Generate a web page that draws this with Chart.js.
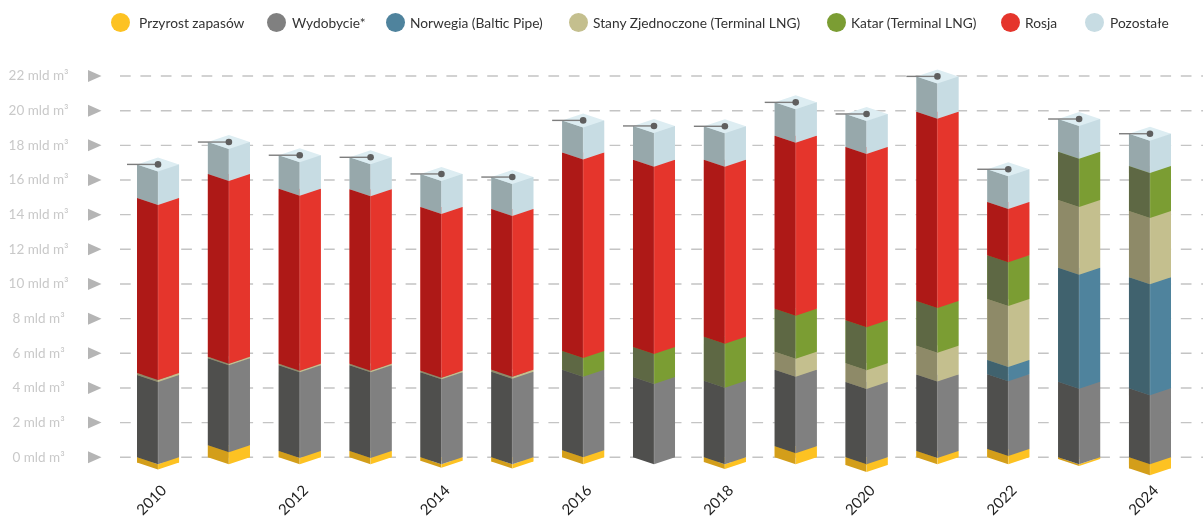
<!DOCTYPE html>
<html lang="pl">
<head>
  <meta charset="UTF-8">
  <title>Gaz w Polsce</title>
  <script src="https://cdn.jsdelivr.net/npm/chart.js"></script>
  <style>
    body { margin: 0; background: #fff; font-family: Lato, sans-serif; }
    #wrap { position: relative; width: 1203px; height: 517px; overflow: hidden; }
    canvas { display: block; }
    .swatch { position: absolute; top: 13px; width: 19px; height: 19px; border-radius: 50%; }
    .name { position: absolute; top: 14px; font-size: 13.75px; line-height: 17px; color: #333; white-space: nowrap; }
  </style>
</head>
<body>
  <div id="wrap">
    <canvas id="chart" width="1203" height="517"></canvas>
  </div>

  <script>
    const years = ["2010", "2011", "2012", "2013", "2014", "2015", "2016", "2017", "2018", "2019", "2020", "2021", "2022", "2023", "2024"];
    const yTickValues = [0, 2, 4, 6, 8, 10, 12, 14, 16, 18, 20, 22];
    const yTickLabels = ["0 mld m³", "2 mld m³", "4 mld m³", "6 mld m³", "8 mld m³", "10 mld m³", "12 mld m³", "14 mld m³", "16 mld m³", "18 mld m³", "20 mld m³", "22 mld m³"];

    const stock = [-0.3, 0.69, 0.36, 0.36, -0.2, -0.25, 0.4, 0, -0.27, 0.63, -0.45, 0.36, 0.48, -0.1, -0.64];
    const output = [4.75, 5.02, 4.95, 4.95, 4.9, 4.94, 4.65, 4.63, 4.42, 4.42, 4.35, 4.41, 4.31, 4.36, 3.98];
    const norway = [0, 0, 0, 0, 0, 0, 0, 0, 0, 0, 0, 0, 0.82, 6.58, 6.41];
    const usa = [0.12, 0.09, 0.08, 0.08, 0.1, 0.11, 0, 0, 0, 1.04, 1.07, 1.67, 3.52, 3.91, 3.82];
    const qatar = [0, 0, 0, 0, 0, 0, 1.08, 1.73, 2.54, 2.48, 2.48, 2.58, 2.53, 2.78, 2.6];
    const russia = [10.09, 10.55, 10.11, 10.07, 9.44, 9.28, 11.45, 10.81, 10.21, 9.99, 10.0, 10.92, 3.07, 0, 0];
    const other = [1.94, 1.84, 1.93, 1.85, 1.91, 1.84, 1.86, 1.95, 1.93, 1.92, 1.91, 2.04, 1.89, 1.89, 1.86];

    const seriesNames = ["Przyrost zapasów", "Wydobycie*", "Norwegia (Baltic Pipe)", "Stany Zjednoczone (Terminal LNG)", "Katar (Terminal LNG)", "Rosja", "Pozostałe"];
    const seriesValues = [stock, output, norway, usa, qatar, russia, other];
    const lightFace = ["#fdc222", "#808080", "#4f839d", "#c4bf8e", "#7b9d33", "#e5352c", "#c7dce3"];
    const darkFace = ["#d39e1a", "#4f4f4d", "#40626e", "#8e8a68", "#5e6844", "#ae1917", "#97a8ab"];
    const capColor = "#ddedf2";

    // legend positions, left edge of the circle and of the text
    const swatchLeft = [111, 267, 386, 569, 827, 1001, 1085];
    const nameLeft = [139, 292, 410, 593, 851, 1025, 1110];

    const wrap = document.getElementById("wrap");
    seriesNames.forEach((name, i) => {
      const dot = document.createElement("div");
      dot.className = "swatch";
      dot.style.left = swatchLeft[i] + "px";
      dot.style.background = lightFace[i];
      wrap.appendChild(dot);
      const text = document.createElement("div");
      text.className = "name";
      text.style.left = nameLeft[i] + "px";
      text.textContent = name;
      wrap.appendChild(text);
    });

    const RISE = 7;  // how far the front corner of a box sits below its sides

    function poly(ctx, color, pts) {
      ctx.fillStyle = color;
      ctx.beginPath();
      pts.forEach((p, i) => i ? ctx.lineTo(p[0], p[1]) : ctx.moveTo(p[0], p[1]));
      ctx.closePath();
      ctx.fill();
    }

    // dashed lines and little triangles, they run past the chart area on both sides
    const guides = {
      id: "guides",
      beforeDatasetsDraw(chart) {
        const ctx = chart.ctx;
        const y = chart.scales.y;
        ctx.save();
        yTickValues.forEach(v => {
          const py = y.getPixelForValue(v);
          ctx.strokeStyle = "#c4c4c4";
          ctx.lineWidth = 1.4;
          ctx.setLineDash([10.7, 9.7]);
          ctx.beginPath();
          ctx.moveTo(120, py);
          ctx.lineTo(1203, py);
          ctx.stroke();
          ctx.setLineDash([]);
          poly(ctx, "#b5b5b5", [[88, py - 6], [101.5, py], [88, py + 6]]);
        });
        ctx.restore();
      }
    };

    // every stacked bar is redrawn as a box from the bar element's own pixels
    const boxes = {
      id: "boxes",
      afterDatasetsDraw(chart) {
        const ctx = chart.ctx;
        ctx.save();
        seriesValues.forEach((values, s) => {
          chart.getDatasetMeta(s).data.forEach((bar, i) => {
            if (!values[i]) return;
            const top = Math.min(bar.y, bar.base);
            const bottom = Math.max(bar.y, bar.base);
            const l = bar.x - bar.width / 2;
            const r = bar.x + bar.width / 2;
            poly(ctx, darkFace[s], [[l, top], [bar.x, top + RISE], [bar.x, bottom + RISE], [l, bottom]]);
            poly(ctx, lightFace[s], [[bar.x, top + RISE], [r, top], [r, bottom], [bar.x, bottom + RISE]]);
            // thin pale seam on the front edge
            ctx.strokeStyle = "rgba(255, 255, 255, 0.22)";
            ctx.lineWidth = 0.8;
            ctx.beginPath();
            ctx.moveTo(bar.x, top + RISE);
            ctx.lineTo(bar.x, bottom + RISE);
            ctx.stroke();
          });
        });
        // lids, leader lines and dots on the last series
        chart.getDatasetMeta(seriesValues.length - 1).data.forEach(bar => {
          const l = bar.x - bar.width / 2;
          const r = bar.x + bar.width / 2;
          poly(ctx, capColor, [[l, bar.y], [bar.x, bar.y - RISE], [r, bar.y], [bar.x, bar.y + RISE]]);
          ctx.strokeStyle = "#7d7d7d";
          ctx.lineWidth = 1.4;
          ctx.beginPath();
          ctx.moveTo(bar.x - 31, bar.y);
          ctx.lineTo(bar.x, bar.y);
          ctx.stroke();
          ctx.fillStyle = "#5f5f5f";
          ctx.beginPath();
          ctx.arc(bar.x, bar.y, 3.3, 0, Math.PI * 2);
          ctx.fill();
        });
        ctx.restore();
      }
    };

    new Chart(document.getElementById("chart"), {
      type: "bar",
      data: {
        labels: years,
        datasets: seriesNames.map((name, s) => ({
          label: name,
          data: seriesValues[s],
          backgroundColor: lightFace[s],
          barPercentage: 0.593,
          categoryPercentage: 1
        }))
      },
      options: {
        responsive: false,
        animation: false,
        layout: { padding: { top: 58.7, right: 17.6 } },
        plugins: { legend: { display: false }, tooltip: { enabled: false } },
        scales: {
          x: {
            stacked: true,
            afterFit(scale) { scale.height = 42.4; },
            grid: { display: false, drawTicks: false },
            border: { display: false },
            ticks: {
              autoSkip: false,
              minRotation: 45,
              maxRotation: 45,
              padding: 7,
              labelOffset: 6,
              color: "#222",
              font: { family: "Lato", size: 15 },
              callback(v, i) { return i % 2 ? "" : years[i]; }
            }
          },
          y: {
            stacked: true,
            min: -1,
            max: 23,
            afterBuildTicks(scale) { scale.ticks = yTickValues.map(value => ({ value })); },
            afterFit(scale) {
              // the big tick padding would otherwise also push the plot area in from top and bottom
              scale.width = 122.6;
              scale.paddingTop = 0;
              scale.paddingBottom = 0;
            },
            grid: { display: false, drawTicks: false },
            border: { display: false },
            ticks: {
              autoSkip: false,
              crossAlign: "center",
              padding: 54,
              color: "#c9c9c9",
              font: { family: "Lato", size: 13.5 },
              callback(v) { return yTickLabels[yTickValues.indexOf(v)]; }
            }
          }
        }
      },
      plugins: [guides, boxes]
    });
  </script>
</body>
</html>
